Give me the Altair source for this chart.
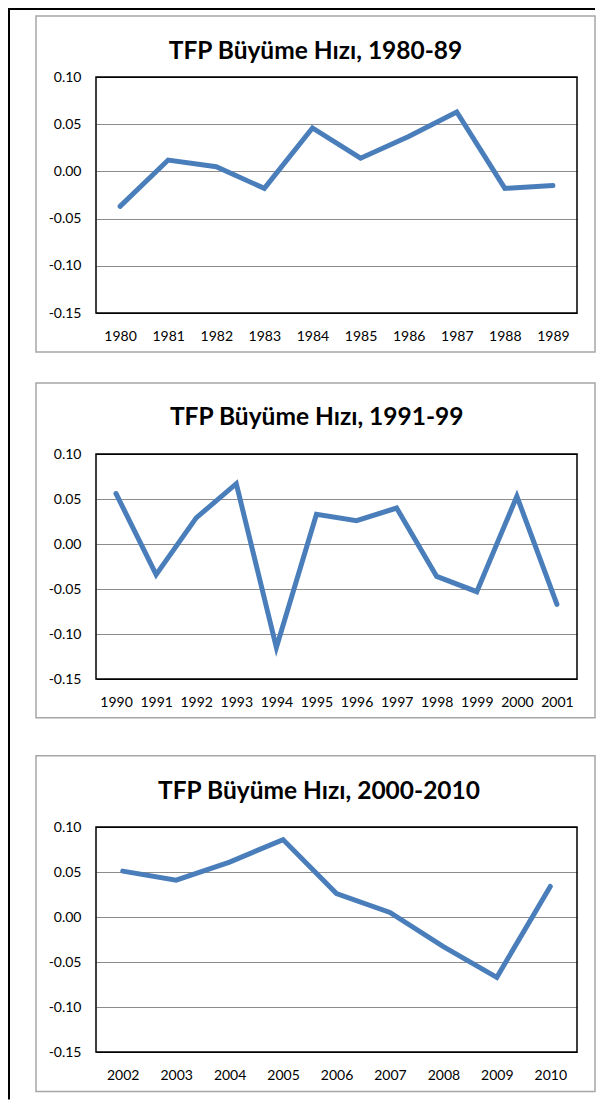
import altair as alt
import pandas as pd

# ---- data ----
years_1 = ["1980", "1981", "1982", "1983", "1984", "1985", "1986", "1987", "1988", "1989"]
tfp_1 = [-0.037, 0.012, 0.005, -0.018, 0.046, 0.014, 0.037, 0.063, -0.018, -0.015]

years_2 = ["1990", "1991", "1992", "1993", "1994", "1995", "1996", "1997", "1998", "1999", "2000", "2001"]
tfp_2 = [0.056, -0.034, 0.029, 0.067, -0.115, 0.033, 0.026, 0.040, -0.036, -0.053, 0.053, -0.067]

years_3 = ["2002", "2003", "2004", "2005", "2006", "2007", "2008", "2009", "2010"]
tfp_3 = [0.051, 0.041, 0.061, 0.086, 0.026, 0.005, -0.033, -0.067, 0.034]

titles = ["TFP Büyüme Hızı, 1980-89", "TFP Büyüme Hızı, 1991-99", "TFP Büyüme Hızı, 2000-2010"]
y_ticks = [-0.15, -0.10, -0.05, 0.0, 0.05, 0.10]

FONT = "Lato"
W = 481
LINE_COLOR = "#4a7ebb"
GRID_COLOR = "#8c8c8c"
BOX_COLOR = "#a6a6a6"


def panel(years, vals, title, plot_h, extra, tx, ty, box_top, box_bottom, seg_top, seg_bottom, top_line=False):
    df = pd.DataFrame({"year": years, "v": vals})
    one = alt.Data(values=[{"k": 0}])

    layers = []
    box = alt.Chart(one).mark_rect(fill="white", fillOpacity=0, stroke=BOX_COLOR, strokeWidth=1.5).encode(
        x=alt.value(-60), x2=alt.value(499), y=alt.value(box_top), y2=alt.value(box_bottom)
    )
    layers.append(box)
    seg = alt.Chart(one).mark_rect(color="black").encode(
        x=alt.value(-88), x2=alt.value(-86), y=alt.value(seg_top), y2=alt.value(seg_bottom)
    )
    layers.append(seg)
    if top_line:
        top = alt.Chart(one).mark_rect(color="black").encode(
            x=alt.value(-88), x2=alt.value(499), y=alt.value(seg_top), y2=alt.value(seg_top + 2)
        )
        layers.append(top)
    ttl = alt.Chart(one).mark_text(
        text=title, font=FONT, fontSize=24.5, fontWeight="bold", align="center",
        baseline="alphabetic", color="black"
    ).encode(x=alt.value(tx), y=alt.value(ty))
    layers.append(ttl)
    frame = alt.Chart(one).mark_rect(fill="white", fillOpacity=0, stroke="black", strokeWidth=1.5).encode(
        x=alt.value(0), x2=alt.value(W), y=alt.value(0), y2=alt.value(plot_h)
    )
    layers.append(frame)

    line = alt.Chart(df).mark_line(color=LINE_COLOR, strokeWidth=5, strokeCap="round").encode(
        x=alt.X(
            "year:O", sort=None, scale=alt.Scale(padding=0.5),
            axis=alt.Axis(title=None, labelAngle=0, domain=False, ticks=False, grid=False,
                          offset=-extra, labelPadding=16, labelFont=FONT, labelFontSize=14,
                          labelColor="black"),
        ),
        y=alt.Y(
            "v:Q", scale=alt.Scale(domain=[-0.15, 0.10], range=[plot_h, 0], nice=False, zero=False),
            axis=alt.Axis(
                title=None, values=y_ticks, domain=False, ticks=False, grid=True,
                gridColor={"condition": {"test": "datum.value > 0.099 || datum.value < -0.149",
                                         "value": "black"}, "value": GRID_COLOR},
                gridWidth=1,
                labelExpr="replace(format(datum.value, '.2f'), '\u2212', '-')",
                labelPadding=15, labelFont=FONT, labelFontSize=14, labelColor="black",
            ),
        ),
    )
    layers.append(line)
    return alt.layer(*layers).properties(width=W, height=plot_h + extra)


p1 = panel(years_1, tfp_1, titles[0], 236, 0, 219.5, -17.7, -61, 275, -69, 383, top_line=True)
p2 = panel(years_2, tfp_2, titles[1], 225, 7, 220.7, -29.3, -71, 263.7, -150, 380)
p3 = panel(years_3, tfp_3, titles[2], 225, 0, 223, -28, -71.3, 264.4, -150, 272.5)

chart = alt.vconcat(p1, p2, p3, spacing=141, bounds="flush").properties(
    padding=0, background="white"
).configure_view(strokeWidth=0)

chart.save("out.html", embed_options={"renderer": "svg", "actions": False})
